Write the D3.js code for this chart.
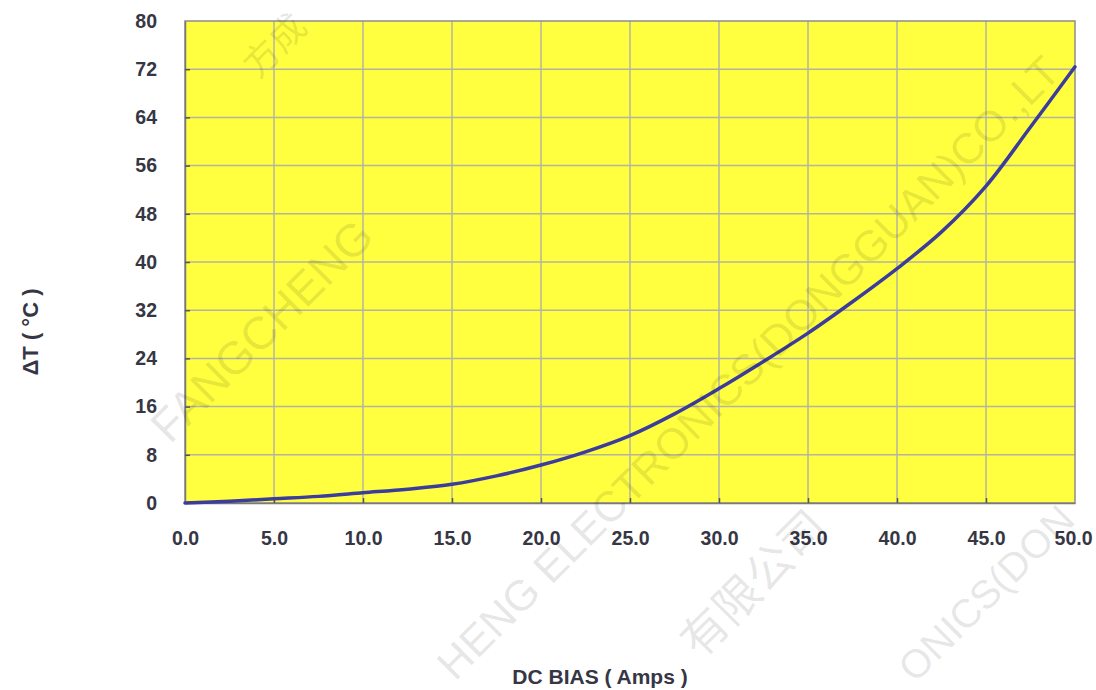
<!DOCTYPE html>
<html>
<head>
<meta charset="utf-8">
<script src="https://cdn.jsdelivr.net/npm/d3@7"></script>
<style>
  body { margin: 0; background: #fff; }
  svg { display: block; }
</style>
</head>
<body>
<svg></svg>
<script>
// data
var amps = [0, 2.5, 5, 7.5, 10, 12.5, 15, 17.5, 20, 22.5, 25, 27.5, 30, 32.5, 35, 37.5, 40, 42.5, 45, 47.5, 50]
var deltaT = [0, 0.3, 0.7, 1.1, 1.7, 2.3, 3.1, 4.5, 6.3, 8.5, 11.2, 14.8, 19.0, 23.5, 28.2, 33.4, 38.9, 45.0, 52.6, 62.4, 72.4]
var xTicks = [0, 5, 10, 15, 20, 25, 30, 35, 40, 45, 50]
var yTicks = [0, 8, 16, 24, 32, 40, 48, 56, 64, 72, 80]

var W = 1096, H = 690
var svg = d3.select("svg")
    .attr("width", W)
    .attr("height", H)

var margin = {top: 21, right: 21, bottom: 187, left: 185}
var graphWidth = W - margin.left - margin.right
var graphHeight = H - margin.top - margin.bottom
var font = "Liberation Sans, Arial, sans-serif"
var ink = "#363644"

var graph = svg.append("g")
    .attr("transform", `translate(${margin.left}, ${margin.top})`)

const scX = d3.scaleLinear().domain([0, 50]).range([0, graphWidth])
const scY = d3.scaleLinear().domain([0, 80]).range([graphHeight, 0])

// plot background
graph.append("rect")
    .attr("width", graphWidth)
    .attr("height", graphHeight)
    .attr("fill", "#ffff40")

// grid
graph.append("g").selectAll("line").data(xTicks.slice(1, -1)).enter().append("line")
    .attr("x1", d => scX(d)).attr("x2", d => scX(d))
    .attr("y1", 0).attr("y2", graphHeight)
    .attr("stroke", "#b4b4a0").attr("stroke-width", 1.5)
graph.append("g").selectAll("line").data(yTicks.slice(1, -1)).enter().append("line")
    .attr("y1", d => scY(d)).attr("y2", d => scY(d))
    .attr("x1", 0).attr("x2", graphWidth)
    .attr("stroke", "#b4b4a0").attr("stroke-width", 1.5)

// frame
graph.append("rect")
    .attr("width", graphWidth)
    .attr("height", graphHeight)
    .attr("fill", "none")
    .attr("stroke", "#8c8c8c")
    .attr("stroke-width", 1.5)

// axes, ticks point inwards
var xAxis = d3.axisBottom(scX).tickValues(xTicks).tickSizeInner(-5).tickSizeOuter(0).tickPadding(28)
    .tickFormat(d3.format(".1f"))
var yAxis = d3.axisLeft(scY).tickValues(yTicks).tickSizeInner(-5).tickSizeOuter(0).tickPadding(28)

var xAxisGroup = graph.append("g")
    .attr("transform", `translate(0, ${graphHeight})`)
    .call(xAxis)
var yAxisGroup = graph.append("g").call(yAxis)

svg.selectAll(".domain").attr("stroke", "#7a7a7a").attr("stroke-width", 1.5)
svg.selectAll(".tick line").attr("stroke", "#555").attr("stroke-width", 1.5)
svg.selectAll(".tick text")
    .attr("font-family", font)
    .attr("font-weight", "bold")
    .attr("font-size", 19.5)
    .attr("fill", ink)
xAxisGroup.selectAll(".tick text").attr("dy", "0.71em")
xAxisGroup.selectAll(".tick text").filter(d => d == 50).attr("dx", -2)
xAxisGroup.selectAll(".tick line").filter(d => d == 0 || d == 50).remove()
yAxisGroup.selectAll(".tick line").filter(d => d == 0 || d == 80).remove()

// curve
var pts = amps.map((a, i) => [a, deltaT[i]])
var line = d3.line()
    .x(d => scX(d[0]))
    .y(d => scY(d[1]))
    .curve(d3.curveCatmullRom.alpha(0.5))

graph.append("path")
    .datum(pts)
    .attr("d", line)
    .attr("fill", "none")
    .attr("stroke", "#3c3c9c")
    .attr("stroke-width", 3.5)
    .attr("stroke-linecap", "round")

// axis titles
svg.append("text")
    .attr("x", 600).attr("y", 684)
    .attr("text-anchor", "middle")
    .attr("font-family", font)
    .attr("font-weight", "bold")
    .attr("font-size", 21)
    .attr("fill", ink)
    .text("DC BIAS ( Amps )")

svg.append("text")
    .attr("transform", "translate(38, 332) rotate(-90)")
    .attr("text-anchor", "middle")
    .attr("font-family", font)
    .attr("font-weight", "bold")
    .attr("font-size", 22)
    .attr("fill", ink)
    .text("ΔT ( °C )")

// faint watermark
var wm = svg.append("g")
    .attr("font-family", "Liberation Sans, Noto Sans CJK SC, sans-serif")
    .attr("fill", "#000")
    .attr("fill-opacity", 0.11)
wm.append("text")
    .attr("font-size", 46)
    .attr("transform", "translate(170, 445) rotate(-45)")
    .text("FANGCHENG")
wm.append("text")
    .attr("font-size", 43)
    .attr("transform", "translate(455, 682) rotate(-45)")
    .text("HENG ELECTRONICS(DONGGUAN)CO.,LT")
wm.append("text")
    .attr("font-size", 46)
    .attr("transform", "translate(700, 660) rotate(-45)")
    .text("有限公司")
wm.append("text")
    .attr("font-size", 40)
    .attr("transform", "translate(915, 684) rotate(-45)")
    .text("ONICS(DON")
wm.append("text")
    .attr("font-size", 36)
    .attr("transform", "translate(258, 80) rotate(-45)")
    .text("方成")
</script>
</body>
</html>
